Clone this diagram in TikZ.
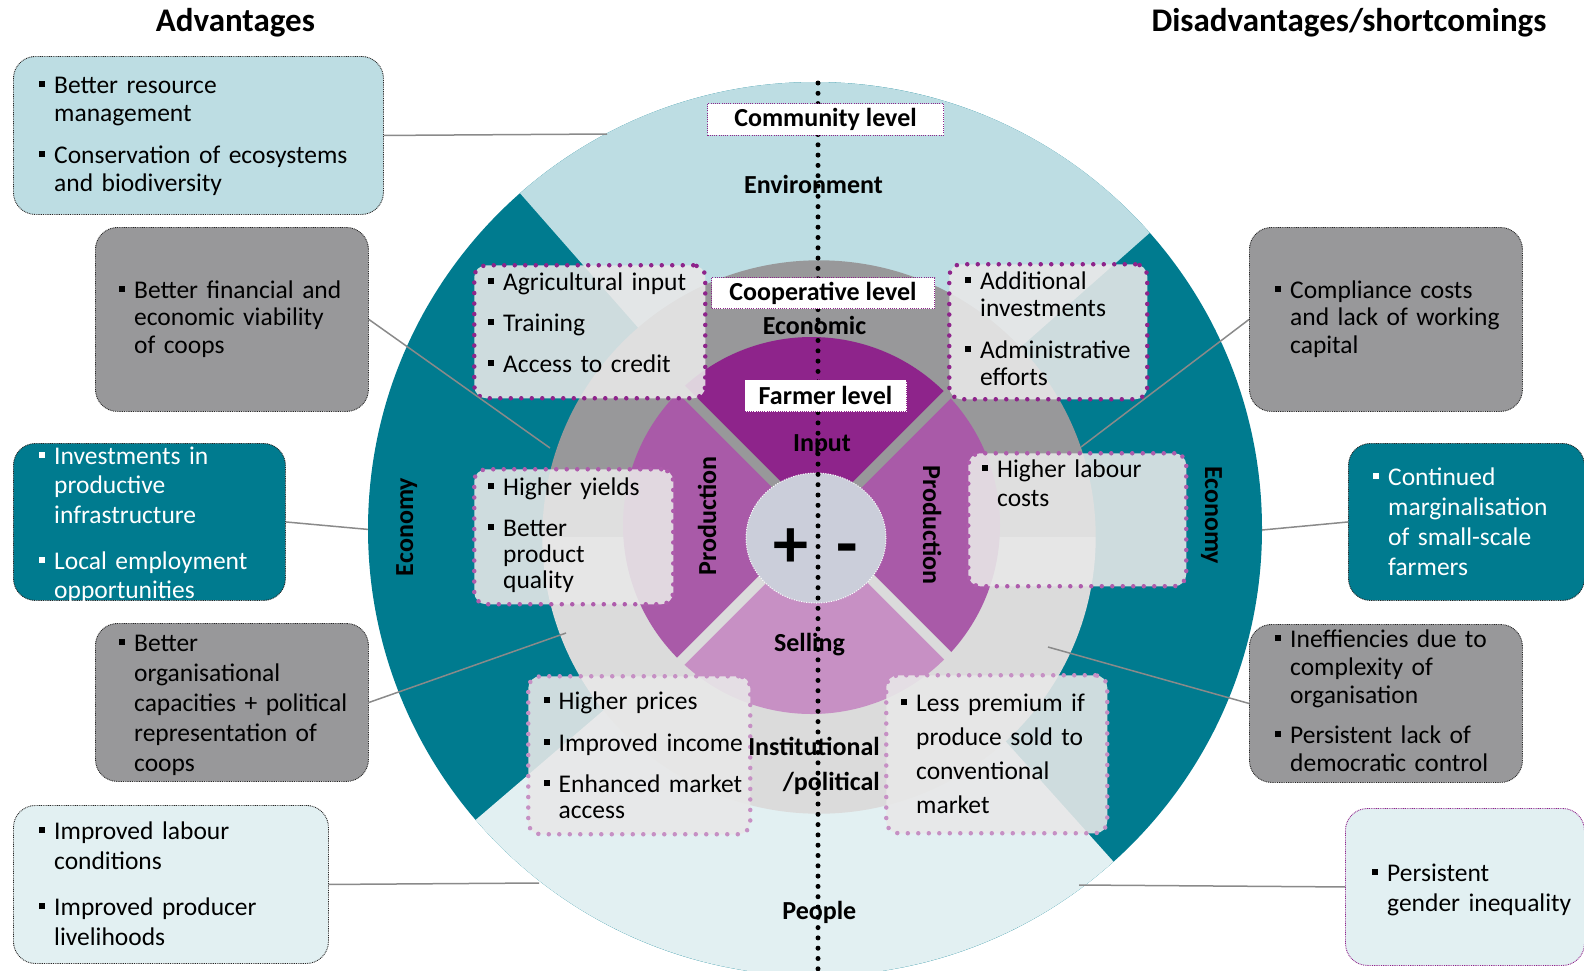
\documentclass[tikz,border=0pt]{standalone}
\usepackage{fontspec}
\setmainfont{Carlito}
\definecolor{envc}{HTML}{BDDDE3}
\definecolor{tealc}{HTML}{007B8F}
\definecolor{peoc}{HTML}{E2F0F2}
\definecolor{dgray}{HTML}{98989A}
\definecolor{lgray}{HTML}{DBDBDB}
\definecolor{pinput}{HTML}{8E248B}
\definecolor{pprod}{HTML}{A95AA8}
\definecolor{psell}{HTML}{C790C4}
\definecolor{cenc}{HTML}{CBCEDA}
\definecolor{ibfill}{HTML}{E8E8E8}
\definecolor{dotA}{HTML}{8E248B}
\definecolor{dotB}{HTML}{AE5CAC}
\definecolor{dotC}{HTML}{C690C4}
\definecolor{connc}{HTML}{8A8A8A}
\newcommand{\bu}{\makebox[15pt][l]{\raisebox{6.5pt}{\rule{6pt}{6pt}}}}
\newcommand{\nd}{\hspace*{15pt}}
\newcommand{\fs}[1]{\fontsize{25.5}{#1}\selectfont}
\begin{document}
\begin{tikzpicture}[x=1pt,y=-1pt,
 obox/.style={rounded corners=22pt, draw=black!85, line width=0.9pt, dash pattern=on 0.9pt off 0.9pt, anchor=north west, inner sep=0pt},
 ibox/.style={rounded corners=12pt, fill=ibfill, fill opacity=0.89, line width=4.5pt, dash pattern=on 0pt off 10.5pt, line cap=round, anchor=north west, inner sep=0pt},
 lvl/.style={fill=white, draw=dotA, line width=1pt, dash pattern=on 1pt off 1.2pt, font=\bfseries\fontsize{26}{30}\selectfont, inner sep=0pt, anchor=north west},
 lab/.style={font=\bfseries\fontsize{26}{30}\selectfont, inner sep=0pt, anchor=base},
 hdr/.style={font=\bfseries\fontsize{33}{38}\selectfont, inner sep=0pt, anchor=base},
 txt/.style={anchor=base west, inner sep=0pt, text width=330pt, align=left},
 conn/.style={draw=connc, line width=1.5pt},
 vdots/.style={line width=5pt, dash pattern=on 0pt off 10.3pt, line cap=round}
]
\useasboundingbox (0,0) rectangle (1584,970);
\coordinate (O) at (815,529);
\coordinate (M) at (819,537);
\coordinate (P) at (811.5,525.5);
\coordinate (G) at (817,525);
\coordinate (C) at (816,538);
% outer ring
\fill[tealc] (O) circle[radius=447];
\fill[envc] (O) -- ++(-41.5:447) arc[start angle=-41.5,end angle=-131.3,radius=447] -- cycle;
\fill[peoc] (O) -- ++(-220.6:447) arc[start angle=-220.6,end angle=-311.9,radius=447] -- cycle;
% middle ring
\fill[dgray] (M) ++(276.7,0) arc[start angle=0,end angle=-180,radius=276.7] -- cycle;
\fill[lgray] (M) ++(276.7,0) arc[start angle=0,end angle=180,radius=276.7] -- cycle;
% farmer level
\fill[pinput] (P) -- ++(-45:188.5) arc[start angle=-45,end angle=-135,radius=188.5] -- cycle;
\fill[pprod] (P) -- ++(-135:188.5) arc[start angle=-135,end angle=-225,radius=188.5] -- cycle;
\fill[psell] (P) -- ++(-225:188.5) arc[start angle=-225,end angle=-315,radius=188.5] -- cycle;
\fill[pprod] (P) -- ++(-315:188.5) arc[start angle=-315,end angle=-405,radius=188.5] -- cycle;
\draw[dgray, line width=10pt] (G) -- ++(-45:200);
\draw[dgray, line width=10pt] (G) -- ++(-135:200);
\draw[lgray, line width=10pt] (G) -- ++(-225:200);
\draw[lgray, line width=10pt] (G) -- ++(-315:200);
\fill[cenc] (C) ellipse[x radius=70, y radius=65];
\draw[white, line width=1pt, dash pattern=on 1pt off 1.5pt] (C) ellipse[x radius=70, y radius=65];
% inner boxes
\node[ibox, draw=dotA, minimum width=231pt, minimum height=133pt] (B1) at (472,263) {};
\node[ibox, draw=dotA, minimum width=198pt, minimum height=135pt] (B2) at (947,262) {};
\node[ibox, draw=dotB, minimum width=199pt, minimum height=135pt] (B3) at (472,467) {};
\node[ibox, draw=dotB, minimum width=218pt, minimum height=133pt] (B4) at (966,451) {};
\node[ibox, draw=dotC, minimum width=222pt, minimum height=158pt] (B5) at (526,674) {};
\node[ibox, draw=dotC, minimum width=221pt, minimum height=158pt] (B6) at (884,673) {};
% outer boxes
\node[obox, fill=envc, minimum width=370pt, minimum height=158pt] (L1) at (13,56) {};
\node[obox, fill=dgray, minimum width=273pt, minimum height=184pt] (L2) at (95,227) {};
\node[obox, fill=tealc, minimum width=272pt, minimum height=157pt] (L3) at (13,443) {};
\node[obox, fill=dgray, minimum width=273pt, minimum height=158pt] (L4) at (95,623) {};
\node[obox, fill=peoc, minimum width=315pt, minimum height=158pt] (L5) at (13,805) {};
\node[obox, fill=dgray, minimum width=273pt, minimum height=184pt] (R1) at (1249,227) {};
\node[obox, fill=tealc, minimum width=236pt, minimum height=157pt] (R2) at (1348,443) {};
\node[obox, fill=dgray, minimum width=273pt, minimum height=158pt] (R3) at (1249,624) {};
\node[obox, fill=peoc, draw=dotA, minimum width=239pt, minimum height=157pt] (R4) at (1345,808) {};
% connectors
\coordinate (cL1) at (607,134);
\coordinate (cL2) at (550,448);
\coordinate (cL3) at (368,529.4);
\coordinate (cL4) at (566,633);
\coordinate (cL5) at (539,883);
\coordinate (cR1) at (1081,447);
\coordinate (cR2) at (1262,530);
\coordinate (cR3) at (1048,647);
\coordinate (cR4) at (1079,885);
\draw[conn] (L1.east) -- (cL1);
\draw[conn] (L2.east) -- (cL2);
\draw[conn] (L3.east) -- (cL3);
\draw[conn] (L4.east) -- (cL4);
\draw[conn] (L5.east) -- (cL5);
\draw[conn] (R1.west) -- (cR1);
\draw[conn] (R2.west) -- (cR2);
\draw[conn] (R3.west) -- (cR3);
\draw[conn] (R4.west) -- (cR4);
% box texts
\node[txt, font=\fs{28}] (L1t) at (39,93.3) {\bu Better resource\\\nd management\\[13.7pt]\bu Conservation of ecosystems\\\nd and biodiversity};
\node[txt, font=\fs{27.5}] (L2t) at (119,298) {\bu Better financial and\\\nd economic viability\\\nd of coops};
\node[txt, font=\fs{29.5}, text=white] (L3t) at (39,464) {\bu Investments in\\\nd productive\\\nd infrastructure\\[16.5pt]\bu Local employment\\\nd opportunities};
\node[txt, font=\fs{30.2}] (L4t) at (119,651) {\bu Better\\\nd organisational\\\nd capacities + political\\\nd representation of\\\nd coops};
\node[txt, font=\fs{30.5}] (L5t) at (39,839) {\bu Improved labour\\\nd conditions\\[15pt]\bu Improved producer\\\nd livelihoods};
\node[txt, font=\fs{27.5}] (R1t) at (1275,298.3) {\bu Compliance costs\\\nd and lack of working\\\nd capital};
\node[txt, font=\fs{30.2}, text=white] (R2t) at (1373,485) {\bu Continued\\\nd marginalisation\\\nd of small-scale\\\nd farmers};
\node[txt, font=\fs{28}] (R3t) at (1275,647.3) {\bu Ineffiencies due to\\\nd complexity of\\\nd organisation\\[12pt]\bu Persistent lack of\\\nd democratic control};
\node[txt, font=\fs{30}] (R4t) at (1372,881.7) {\bu Persistent\\\nd gender inequality};
\node[txt, font=\fs{28}] (B1t) at (488,290) {\bu Agricultural input\\[13pt]\bu Training\\[13pt]\bu Access to credit};
\node[txt, font=\fs{27}] (B2t) at (965,289.3) {\bu Additional\\\nd investments\\[15.6pt]\bu Administrative\\\nd efforts};
\node[txt, font=\fs{26}] (B3t) at (488,495) {\bu Higher yields\\[15pt]\bu Better\\\nd product\\\nd quality};
\node[txt, font=\fs{28.7}] (B4t) at (982,477.3) {\bu Higher labour\\\nd costs};
\node[txt, font=\fs{26}] (B5t) at (543.5,709.3) {\bu Higher prices\\[15.7pt]\bu Improved income\\[15.7pt]\bu Enhanced market\\\nd access};
\node[txt, font=\fs{34}] (B6t) at (901,711.7) {\bu Less premium if\\\nd produce sold to\\\nd conventional\\\nd market};
% labels
\node[hdr] (hA) at (235.4,31.7) {Advantages};
\node[hdr] (hD) at (1349,31.7) {Disadvantages/shortcomings};
\node[lab] (env) at (813.5,193) {Environment};
\node[lab] (eco) at (814.5,334) {Economic};
\node[lab] (inp) at (822,451.7) {Input};
\node[lab, rotate=90] (prL) at (716,516) {Production};
\node[lab, rotate=-90] (prR) at (923,525) {Production};
\node[lab] (sel) at (809.4,651.7) {Selling};
\node[lab, anchor=base east, text width=150pt, align=right, font=\bfseries\fontsize{26}{35}\selectfont] (inst) at (880,755) {Institutional\\/political};
\node[lab] (peo) at (819.3,919) {People};
\node[lab, rotate=90] (ecL) at (413,527) {Economy};
\node[lab, rotate=-90] (ecR) at (1205,515) {Economy};
\node[lab, font=\bfseries\fontsize{70}{80}\selectfont] (plus) at (791,567) {+};
\node[lab, font=\bfseries\fontsize{70}{80}\selectfont] (minus) at (847.7,567) {-};
% divider
\coordinate (vt) at (818,83);
\coordinate (vb) at (818,972);
\draw[vdots] (vt) -- (vb);
% level boxes
\node[lvl, minimum width=236pt, minimum height=31.5pt] (comm) at (707,103) {Community level};
\node[lvl, minimum width=223pt, minimum height=31pt] (coop) at (711,277) {Cooperative level};
\node[lvl, minimum width=162pt, minimum height=32pt] (farm) at (744,379) {Farmer level};
\end{tikzpicture}
\end{document}
